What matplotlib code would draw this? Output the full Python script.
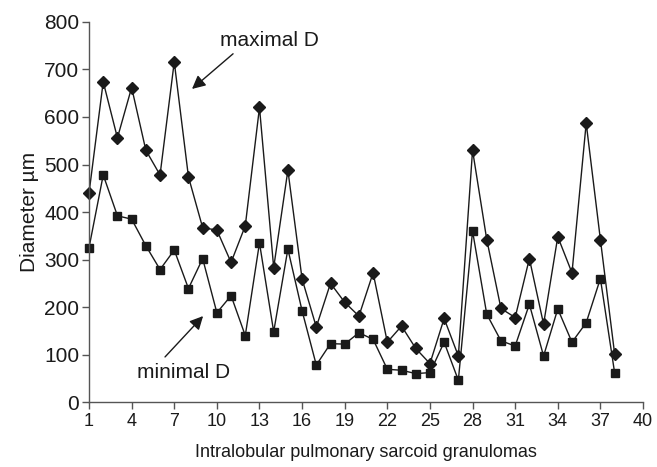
import matplotlib
matplotlib.use("Agg")
import matplotlib.pyplot as plt

plt.rcParams['font.family'] = ['Liberation Sans', 'DejaVu Sans']

# granuloma index
granuloma = list(range(1, 39))
# maximal diameter (um)
max_d = [440, 674, 556, 662, 530, 478, 716, 474, 367, 362,
         294, 371, 620, 283, 488, 259, 158, 250, 210, 181,
         272, 126, 160, 113, 81, 176, 97, 530, 342, 197,
         178, 302, 164, 348, 272, 587, 342, 102]
# minimal diameter (um)
min_d = [325, 478, 392, 385, 329, 279, 320, 239, 302, 188,
         224, 140, 335, 148, 322, 192, 78, 123, 122, 146,
         132, 69, 67, 60, 62, 126, 46, 360, 185, 129,
         118, 206, 97, 196, 126, 167, 260, 62]

xticks = list(range(1, 41, 3))
yticks = list(range(0, 801, 100))

fig = plt.figure(figsize=(6.57, 4.67), dpi=100)
ax = fig.add_axes([0.1355, 0.139, 0.8432, 0.814])

col = '#1a1a1a'
ax.plot(granuloma, max_d, color=col, lw=1, marker='D', ms=6.5, mfc=col, mec=col, clip_on=False)
ax.plot(granuloma, min_d, color=col, lw=1, marker='s', ms=6, mfc=col, mec=col, clip_on=False)

ax.set_xlim(1, 40)
ax.set_ylim(0, 800)
ax.set_xticks(xticks)
ax.set_yticks(yticks)
ax.tick_params(direction='out', length=5, width=1, color='#555555', labelcolor=col)
ax.tick_params(axis='y', labelsize=15, pad=2)
ax.tick_params(axis='x', labelsize=13, pad=3)
for s in ['top', 'right']:
    ax.spines[s].set_visible(False)
for s in ['left', 'bottom']:
    ax.spines[s].set_color('#555555')
    ax.spines[s].set_linewidth(1)

ax.set_xlabel('Intralobular pulmonary sarcoid granulomas', fontsize=13, color=col, labelpad=10)
ax.set_ylabel('Diameter µm', fontsize=15, color=col, labelpad=4)

ax.text(13.68, 749, 'maximal D', ha='center', va='baseline', fontsize=15, color=col)
ax.text(7.69, 51, 'minimal D', ha='center', va='baseline', fontsize=15, color=col)

arrow = dict(arrowstyle='-|>', color=col, lw=1, mutation_scale=20, shrinkA=0, shrinkB=0)
ax.annotate('', xy=(8.25, 659), xytext=(11.14, 733), arrowprops=arrow)
ax.annotate('', xy=(9.03, 181), xytext=(6.35, 95), arrowprops=arrow)

fig.savefig('out.png', dpi=100)
